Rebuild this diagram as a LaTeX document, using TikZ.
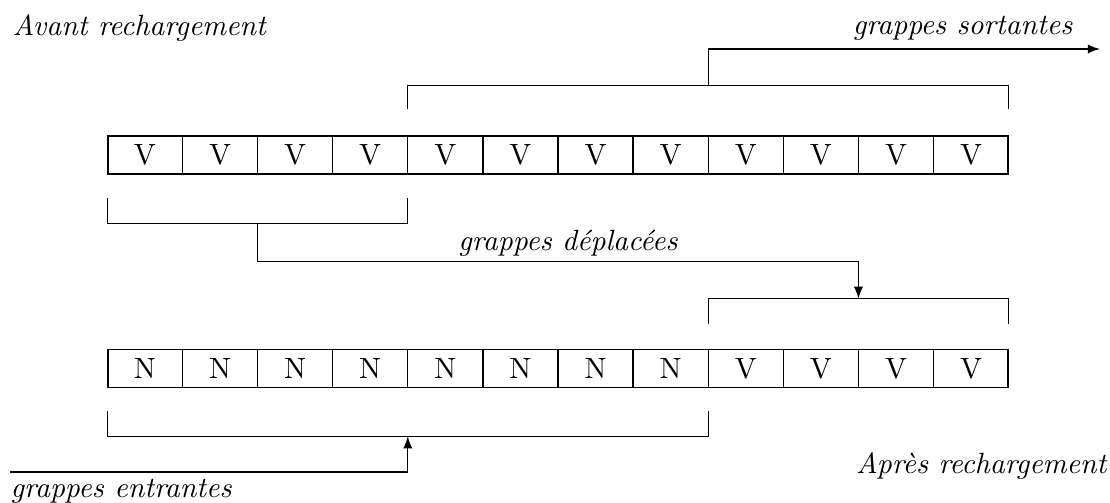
\documentclass[tikz,border=0pt]{standalone}
\usepackage{fontspec}
\usepackage{tikz}
\usetikzlibrary{calc,shapes.multipart,arrows,positioning}

\newcommand{\cstrut}{\rule[-3.1pt]{0pt}{13pt}}

\begin{document}
\begin{tikzpicture}[
  x=0.012cm, y=0.012cm,
  line width=0.45pt,
  cases/.style={
    draw,
    rectangle split,
    rectangle split horizontal,
    rectangle split parts=#1,
    text width=0.885cm,
    inner xsep=0pt,
    inner ysep=0pt,
    text centered
    },
  fleche/.style={-latex},
  legende/.style={font=\itshape, inner sep=0pt}
]
\useasboundingbox (0,0) rectangle (1110,502);

\node[cases=12] (avant) at (558,347)
  {
  					\cstrut V
  \nodepart{two}	\cstrut V
  \nodepart{three}	\cstrut V
  \nodepart{four}	\cstrut V
  \nodepart{five}	\cstrut V
  \nodepart{six}	\cstrut V
  \nodepart{seven}	\cstrut V
  \nodepart{eight}	\cstrut V
  \nodepart{nine}	\cstrut V
  \nodepart{ten}	\cstrut V
  \nodepart{eleven}	\cstrut V
  \nodepart{twelve}	\cstrut V
  };

\node[cases=12] [below=2.088cm of avant]
  (apres)
  {
  					\cstrut N
  \nodepart{two}	\cstrut N
  \nodepart{three}	\cstrut N
  \nodepart{four}	\cstrut N
  \nodepart{five}	\cstrut N
  \nodepart{six}	\cstrut N
  \nodepart{seven}	\cstrut N
  \nodepart{eight}	\cstrut N
  \nodepart{nine}	\cstrut V
  \nodepart{ten}	\cstrut V
  \nodepart{eleven}	\cstrut V
  \nodepart{twelve}	\cstrut V
  };

\node[legende, anchor=base west] (avantlbl) at (12,466) {Avant rechargement};
\node[legende, anchor=base east] (sortantes) at (1073,467) {grappes sortantes};
\node[legende, anchor=base] (deplacees) at (568,252) {grappes déplacées};
\node[legende, anchor=base east] (apreslbl) at (1107,29) {Après rechargement};
\node[legende, anchor=base west] (entrantes) at (10,5) {grappes entrantes};

\coordinate (fin) at (1100,453);
\coordinate (debut) at (10,30);

% grappes sortantes
\draw ($(avant.four split north)+(0,26)$) |- ($(avant.north east)+(0,50)$) -- ($(avant.north east)+(0,26)$);
\draw[fleche] ($(avant.eight split north)+(0,50)$) |- (fin);

% grappes deplacees
\draw ($(avant.south west)+(0,-23)$) |- ($(avant.four split south)+(0,-49)$) -- ($(avant.four split south)+(0,-23)$);
\draw[fleche] ($(avant.two split south)+(0,-49)$) -- ++(0,-38) -| ($(apres.ten split north)+(0,50)$);
\draw ($(apres.eight split north)+(0,25)$) |- ($(apres.north east)+(0,50)$) -- ($(apres.north east)+(0,25)$);

% grappes entrantes
\draw ($(apres.south west)+(0,-23)$) |- ($(apres.eight split south)+(0,-48)$) -- ($(apres.eight split south)+(0,-23)$);
\draw[fleche] (debut) -| ($(apres.four split south)+(0,-48)$);
\end{tikzpicture}
\end{document}
